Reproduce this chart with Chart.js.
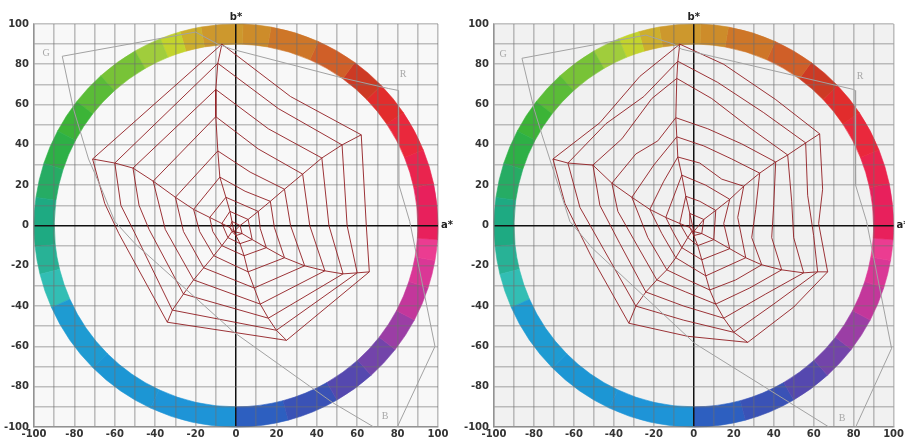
<!DOCTYPE html>
<html>
<head>
<meta charset="utf-8">
<script src="https://cdn.jsdelivr.net/npm/chart.js@4.4.1/dist/chart.umd.min.js"></script>
<style>
  html, body { margin: 0; padding: 0; background: #fff; width: 905px; height: 441px; overflow: hidden; }
  canvas { position: absolute; top: 0; }
</style>
</head>
<body>
<canvas id="left" width="460" height="441" style="left:0"></canvas>
<canvas id="right" width="453" height="441" style="left:452px"></canvas>
<script>
// a*/b* axis ticks
const tickValues = [-100, -80, -60, -40, -20, 0, 20, 40, 60, 80, 100];

// left panel: mesh nodes on the six spokes (outer ring first), [a*, b*]
const leftY = [[-7,90],[-9,80.5],[-10,67.5],[-10,54],[-9,37],[-8,24],[-5,14],[-3,7],[-2,2]];
const leftR = [[62,45],[52.5,40],[42.5,33.5],[33,25.5],[24,18],[17,12],[11,7],[6,3],[2,0]];
const leftM = [[66,-23],[60,-23.5],[53,-24],[44,-22.5],[34,-20],[24,-16],[15,-11],[8,-7],[3,-4]];
const leftB = [[25,-57],[20,-52],[16,-46],[12,-39],[9,-31],[6,-23],[4,-15],[2,-9],[0,-5]];
const leftC = [[-34,-48],[-31.5,-42],[-26,-34],[-21,-27],[-16,-21],[-11,-15],[-7,-10],[-4,-6],[-2,-3]];
const leftG = [[-71,33],[-60,31],[-51,28.5],[-41,22],[-30,14],[-21,8],[-13,4],[-7,1],[-3,-1]];
const leftCenter = [-1,-3];
// left panel: bend points between spokes, one list per ring
const leftYR = [[[27,64]],[[21,58]],[[16,48]],[[11,38]],[[7,26.5]],[[4.5,17]],[],[],[]];
const leftRM = [[[64.5,0]],[[55,0]],[[46,0]],[[36.5,0]],[[27,0]],[[19,-1]],[[12,-1.5]],[],[]];
const leftCG = [[[-58,-4],[-65,11]],[[-50,-4],[-57,10]],[[-43,-2],[-48,10]],[[-35,-2]],[[-26,-3]],[[-18,-3]],[[-11.5,-3]],[],[]];
// left panel: grey gamut outline and its corner labels
const leftGamutTop = [[-86,84],[-20,96],[-9,90],[-2,87.5],[52.5,73.3],[75.4,68],[80.5,67],[80.7,20],[86,2],[98.5,-60],[80.3,-99],[77,-112]];
const leftGamutSide = [[-86,84],[-80.5,58],[-73,33],[-66.5,18],[-60,2],[-50,-9],[-1,-53],[48,-88],[80,-107],[88,-112]];
const leftGamutLabels = [['G',-94,85.6],['R',82.7,75],['B',73.8,-94.5]];

// right panel: mesh nodes on the six spokes
const rightY = [[-7,90],[-8,81.5],[-8.5,73],[-9,53.5],[-8.5,44],[-8,34],[-6,25],[-4,14.5],[-2,6]];
const rightR = [[63,45.5],[56,41],[47,35],[41,31.5],[33,26],[25,19.5],[18,13],[11,7.5],[5,3]];
const rightM = [[67,-23],[62,-23],[55,-23.5],[44,-22],[34,-19.5],[26,-16],[18,-11.5],[10,-7],[4,-4]];
const rightB = [[27,-58],[20,-53],[15,-46],[11,-39],[8,-32],[6,-25],[4,-17],[2,-10],[0,-5]];
const rightC = [[-32.5,-48.5],[-29,-40],[-24,-33],[-18.5,-27],[-13.5,-22],[-9,-16],[-6,-11],[-3,-6],[-1,-3]];
const rightG = [[-70.5,33],[-63,31],[-50.5,30],[-41,21],[-31,14],[-22,8],[-14,4],[-7,1],[-2,-1]];
const rightCenter = [0,-3];
// right panel: bend points between spokes
const rightYR = [[[15,80],[41,62.5]],[[12,71],[35,56]],[[9,63],[28,48.5]],[[7,48],[24,40.5]],[[5,39.5],[19,33]],[[3,31],[14,23]],[[6,20]],[[3,12]],[]];
const rightRM = [[[64.5,18],[62.5,1]],[[57,15],[60,-5]],[[49,12],[50,-6]],[[40,10],[39,-6]],[[31,8],[29,-6]],[[22,4]],[[15,1]],[],[]];
const rightMB = [[[50,-40.5]],[[40,-39]],[[36,-34]],[[28,-31]],[[21,-27]],[],[],[],[]];
const rightBC = [[[-3,-55]],[[-5,-47]],[[-5,-40]],[[-4,-33]],[[-3,-27]],[],[],[],[]];
const rightCG = [[[-51.5,-15],[-64.5,11]],[[-45,-12],[-57,9]],[[-37,-9],[-47,10]],[[-30,-7],[-38,7]],[[-23,-6]],[[-16,-4]],[[-10.5,-3]],[],[]];
const rightGY = [[[-47,51],[-27,74]],[[-44,50.5],[-25,64]],[[-36,43],[-21,63]],[[-29,35.5],[-18,42]],[[-20,30]],[[-15,22]],[],[],[]];
const rightGamutTop = [[-86,83],[-24,94.5],[-10,90],[-6,87.5],[80,67.5],[80.7,67],[81,20],[86.5,2],[99,-61],[81.5,-99],[78,-112]];
const rightGamutSide = [[-86,83],[-80,58],[-76,45],[-62,2],[-50.7,-11.3],[0.6,-58.6],[78.3,-106.6],[86,-112]];
const rightGamutLabels = [['G',-95.4,85],['R',83.3,74],['B',74.2,-95.9]];

// hue ring: start angle of each patch (deg, from +a*) and its colour
const hueAngles = [0,12,22,34,44,54,66,80,88,100,106,112,120,132,142,152,162,172,186,194,204,225,245,270,285,300,312,322,332,342,350,356];
const hueColors = ['rgb(232,32,92)','rgb(234,36,78)','rgb(234,40,60)','rgb(226,44,44)','rgb(205,58,36)',
  'rgb(208,95,40)','rgb(206,118,40)','rgb(205,140,42)','rgb(205,152,45)','rgb(205,175,45)','rgb(195,212,45)',
  'rgb(160,205,60)','rgb(120,195,55)','rgb(90,188,55)','rgb(60,180,55)','rgb(45,176,70)','rgb(38,172,100)',
  'rgb(30,170,130)','rgb(40,178,150)','rgb(50,190,180)','rgb(30,155,210)','rgb(28,150,212)','rgb(30,148,215)',
  'rgb(45,95,192)','rgb(58,82,182)','rgb(85,72,175)','rgb(115,68,170)','rgb(155,62,165)','rgb(195,55,155)',
  'rgb(218,55,150)','rgb(235,60,145)','rgb(232,32,92)'];
const ringInner = 90, ringOuter = 100;

const meshColor = 'rgba(145,30,34,0.9)';
const gamutColor = '#a2a2a2';

function toPts(list) { return list.map(p => ({x: p[0], y: p[1]})); }

function lineSet(list, color, width) {
  return {data: toPts(list), showLine: true, borderColor: color, borderWidth: width,
          pointRadius: 0, pointHoverRadius: 0, fill: false, tension: 0};
}

function meshSets(sp, mids, center) {
  const order = ['Y','R','M','B','C','G'];
  const sets = [];
  for (let k = 0; k < sp.Y.length; k++) {
    const ring = [];
    order.forEach((s, i) => {
      ring.push(sp[s][k]);
      const m = mids[s + order[(i + 1) % 6]];
      if (m && m[k]) m[k].forEach(p => ring.push(p));
    });
    ring.push(sp.Y[k]);
    sets.push(lineSet(ring, meshColor, 1));
  }
  order.forEach(s => sets.push(lineSet(sp[s].concat([center]), meshColor, 1)));
  return sets;
}

const ringPlugin = {
  id: 'ring',
  beforeDraw(chart, args, opts) {
    const {ctx, chartArea: a, scales: {x, y}} = chart;
    ctx.save();
    ctx.fillStyle = opts.bg;
    ctx.fillRect(a.left, a.top, a.right - a.left, a.bottom - a.top);
    const cx = x.getPixelForValue(0), cy = y.getPixelForValue(0);
    const rxo = x.getPixelForValue(ringOuter) - cx, ryo = cy - y.getPixelForValue(ringOuter);
    const rxi = x.getPixelForValue(ringInner) - cx, ryi = cy - y.getPixelForValue(ringInner);
    hueAngles.forEach((start, i) => {
      const end = i + 1 < hueAngles.length ? hueAngles[i + 1] : 360;
      const a0 = start * Math.PI / 180, a1 = end * Math.PI / 180;
      ctx.beginPath();
      ctx.ellipse(cx, cy, rxo, ryo, 0, -a0, -a1, true);
      ctx.ellipse(cx, cy, rxi, ryi, 0, -a1, -a0, false);
      ctx.closePath();
      ctx.fillStyle = hueColors[i];
      ctx.strokeStyle = hueColors[i];
      ctx.lineWidth = 0.6;
      ctx.fill();
      ctx.stroke();
    });
    ctx.restore();
  }
};

const textPlugin = {
  id: 'texts',
  afterDatasetsDraw(chart, args, opts) {
    const {ctx, chartArea: a, scales: {x, y}} = chart;
    ctx.save();
    ctx.fillStyle = '#222';
    ctx.font = 'bold 10px "DejaVu Sans"';
    ctx.textAlign = 'center';
    ctx.textBaseline = 'bottom';
    ctx.fillText('b*', x.getPixelForValue(0), a.top - 2);
    ctx.textAlign = 'left';
    ctx.textBaseline = 'middle';
    ctx.fillText('a*', a.right + 3, y.getPixelForValue(0));
    ctx.fillStyle = '#a8a8a8';
    ctx.font = '10px "Liberation Serif"';
    ctx.textAlign = 'center';
    opts.labels.forEach(l => ctx.fillText(l[0], x.getPixelForValue(l[1]), y.getPixelForValue(l[2])));
    ctx.restore();
  }
};

function axis(size, isX) {
  return {
    type: 'linear', min: -100, max: 100,
    afterBuildTicks: s => { s.ticks = []; for (let v = -100; v <= 100; v += 10) s.ticks.push({value: v}); },
    ticks: {
      autoSkip: false, maxRotation: 0, padding: isX ? 1 : 5, color: '#333',
      font: {family: 'DejaVu Sans', size: 10, weight: 'bold'},
      callback: v => tickValues.includes(v) ? String(v) : ''
    },
    grid: {
      drawTicks: false,
      color: c => c.tick && c.tick.value === 0 ? '#111' : 'rgba(110,110,110,0.42)',
      lineWidth: c => c.tick && c.tick.value === 0 ? 1.5 : 1.6
    },
    border: {display: true, color: 'rgba(110,110,110,0.55)', width: 1.5},
    afterFit: s => { if (isX) s.height = size; else s.width = size; }
  };
}

function makeChart(id, mesh, gamut, labels, yWidth, padRight, bg) {
  const datasets = [
    ...gamut.map(g => lineSet(g, gamutColor, 1)),
    ...mesh
  ];
  new Chart(document.getElementById(id), {
    type: 'scatter',
    data: {datasets},
    options: {
      responsive: false, animation: false,
      layout: {padding: {top: 24, right: padRight, left: 0, bottom: 0}},
      plugins: {legend: {display: false}, tooltip: {enabled: false}, ring: {bg}, texts: {labels}},
      scales: {x: axis(14, true), y: axis(yWidth, false)}
    },
    plugins: [ringPlugin, textPlugin]
  });
}

makeChart('left',
  meshSets({Y: leftY, R: leftR, M: leftM, B: leftB, C: leftC, G: leftG},
           {YR: leftYR, RM: leftRM, CG: leftCG}, leftCenter),
  [leftGamutTop, leftGamutSide], leftGamutLabels, 34, 22, '#f8f8f8');

makeChart('right',
  meshSets({Y: rightY, R: rightR, M: rightM, B: rightB, C: rightC, G: rightG},
           {YR: rightYR, RM: rightRM, MB: rightMB, BC: rightBC, CG: rightCG, GY: rightGY}, rightCenter),
  [rightGamutTop, rightGamutSide], rightGamutLabels, 42, 8, '#f1f1f1');
</script>
</body>
</html>
